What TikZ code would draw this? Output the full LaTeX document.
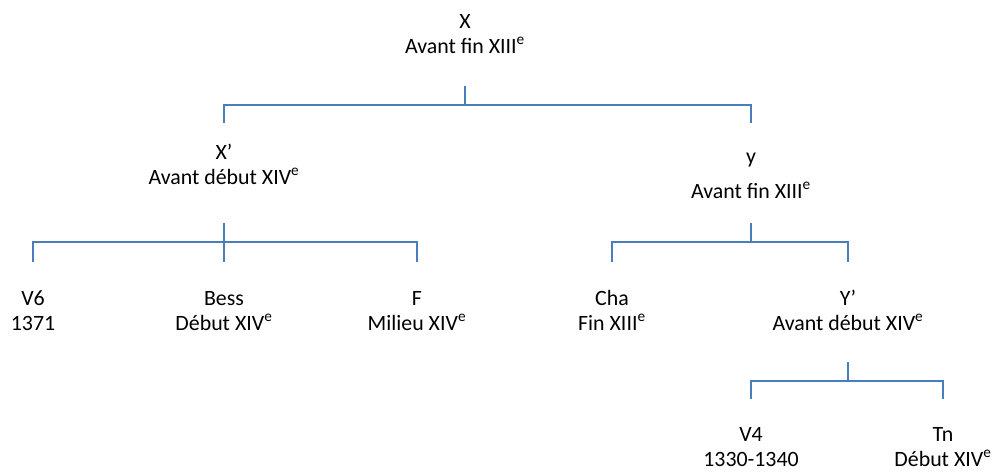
\documentclass[tikz,border=0pt]{standalone}
\usepackage{fontspec}
\setmainfont{Carlito}
\definecolor{linkblue}{RGB}{74,126,187}
\tikzset{
  ms/.style={align=center,inner sep=0pt,anchor=base,font=\fontsize{16.4}{18.75}\selectfont},
  link/.style={draw=linkblue,line width=1.5pt}
}
\begin{document}
\begin{tikzpicture}[x=0.75pt,y=-0.75pt]
 \useasboundingbox (0,0) rectangle (995,471);
 % manuscripts
 \node[ms] (X) at (465,53) {X\\Avant fin XIII\textsuperscript{e}};
 \node[ms] (Xp) at (224,184) {X’\\Avant début XIV\textsuperscript{e}};
 \node[ms] (y) at (751,198) {y\\[7.5pt]Avant fin XIII\textsuperscript{e}};
 \node[ms] (V6) at (33,330) {V6\\1371};
 \node[ms] (Bess) at (224,330) {Bess\\Début XIV\textsuperscript{e}};
 \node[ms] (F) at (417,330) {F\\Milieu XIV\textsuperscript{e}};
 \node[ms] (Cha) at (612,330) {Cha\\Fin XIII\textsuperscript{e}};
 \node[ms] (Yp) at (848,330) {Y’\\Avant début XIV\textsuperscript{e}};
 \node[ms] (V4) at (751,466) {V4\\1330-1340};
 \node[ms] (Tn) at (943,466) {Tn\\Début XIV\textsuperscript{e}};
 % stemma lines
 \coordinate (Xbus) at (465,105);
 \coordinate (Xpbus) at (224,242);
 \coordinate (ybus) at (751,242);
 \coordinate (Ypbus) at (848,381);
 \draw[link] (X |- 0,86) -- (Xbus);
 \draw[link] (Xp |- 0,123) |- (Xbus) -| (y |- 0,123);
 \draw[link] (Xp |- 0,223) -- (Bess |- 0,262);
 \draw[link] (V6 |- 0,262) |- (Xpbus) -| (F |- 0,262);
 \draw[link] (y |- 0,223) -- (ybus);
 \draw[link] (Cha |- 0,262) |- (ybus) -| (Yp |- 0,262);
 \draw[link] (Yp |- 0,362) -- (Ypbus);
 \draw[link] (V4 |- 0,399) |- (Ypbus) -| (Tn |- 0,399);
\end{tikzpicture}
\end{document}
